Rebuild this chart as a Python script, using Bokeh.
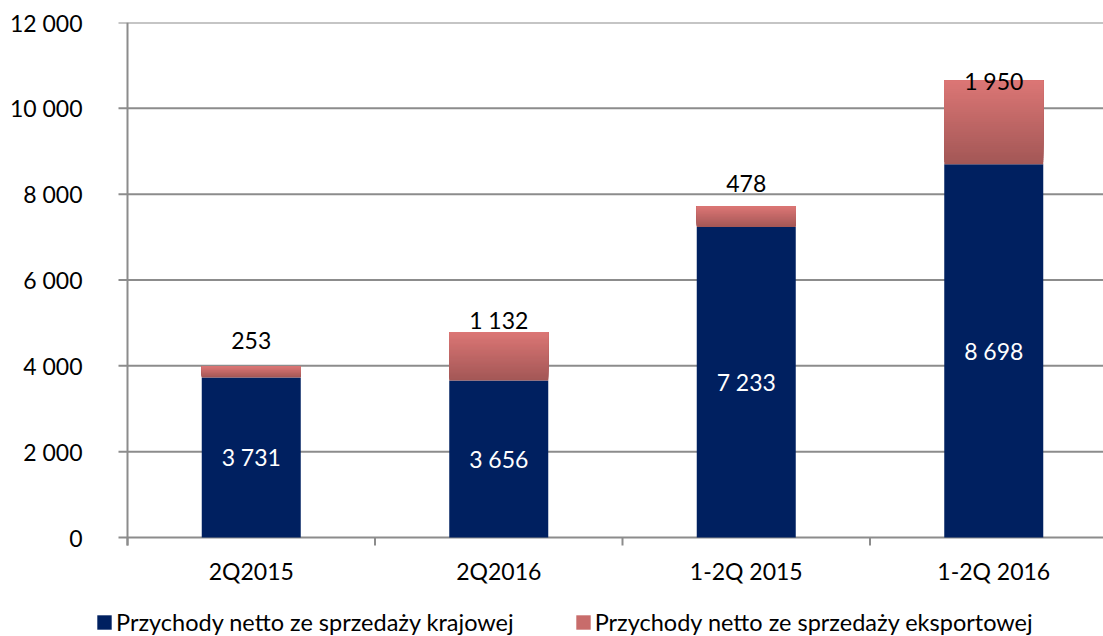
from bokeh.plotting import figure
from bokeh.models import (ColumnDataSource, Range1d, FixedTicker, CustomJSTickFormatter,
                          Legend, LegendItem)
from bokeh.core.properties import value
from bokeh.embed import file_html
from bokeh.resources import INLINE

# ---- data ----
categories = ["2Q2015", "2Q2016", "1-2Q 2015", "1-2Q 2016"]
domestic = [3731, 3656, 7233, 8698]
export = [253, 1132, 478, 1950]
y_ticks = [0, 2000, 4000, 6000, 8000, 10000, 12000]
series_names = ["Przychody netto ze sprzedaży krajowej", "Przychody netto ze sprzedaży eksportowej"]

# ---- style / layout ----
FONT = "Lato"
FS = "23px"
NAVY = "#002060"
EXP_TOP = (219, 118, 117)
EXP_BOT = (163, 87, 86)
GRID = "#8c8c8c"
LW = 2
BAR_W = 0.4
N_SLICES = 40
W, H = 1103, 636
FRAME_L, FRAME_T = 95, 22          # frame box (px)
AXIS_X, AXIS_Y = 127, 537          # pixel of plot origin
CAT_PX = 247.5                     # px per category
Y_MAX = 12000
PX_PER_Y = (AXIS_Y - FRAME_T) / Y_MAX
TICK_PX = 8
export_label_offsets = [-26, -12, -23, 0]   # px, label placement relative to bar top

def fmt(v):
    return f"{v:,}".replace(",", " ")

def dx(px):
    return px / CAT_PX

def dy(px):
    return px / PX_PER_Y

n = len(categories)
xs = [i + 0.5 for i in range(n)]
x0 = -dx(AXIS_X - FRAME_L)
x1 = dx(W - AXIS_X)
y0 = -dy(H - AXIS_Y)

p = figure(width=W, height=H, output_backend="svg", toolbar_location=None,
           x_range=Range1d(x0, x1), y_range=Range1d(y0, Y_MAX), x_axis_location=None,
           min_border_left=FRAME_L, min_border_right=0, min_border_top=FRAME_T, min_border_bottom=0)
p.outline_line_color = None
p.background_fill_color = "white"
p.border_fill_color = "white"
p.grid.visible = False

# y axis: labels only, lines drawn as segments at the plot origin
yax = p.yaxis[0]
yax.ticker = FixedTicker(ticks=y_ticks)
yax.formatter = CustomJSTickFormatter(code="return tick.toString().replace(/\\B(?=(\\d{3})+(?!\\d))/g, ' ');")
yax.axis_line_color = None
yax.major_tick_line_color = None
yax.minor_tick_line_color = None
yax.major_tick_out = 0
yax.major_tick_in = 0
yax.major_label_text_font = FONT
yax.major_label_text_font_size = FS
yax.major_label_text_color = "black"
yax.major_label_standoff = 13

# gridlines with outer tick
p.segment(x0=[-dx(TICK_PX + 1)] * len(y_ticks), y0=y_ticks, x1=[x1] * len(y_ticks), y1=y_ticks,
          line_color=GRID, line_width=LW)
# vertical axis line
p.segment(x0=[0], y0=[-dy(TICK_PX)], x1=[0], y1=[Y_MAX], line_color=GRID, line_width=LW)
# category boundary ticks
bounds = list(range(n + 1))
p.segment(x0=bounds, y0=[0] * len(bounds), x1=bounds, y1=[-dy(TICK_PX)] * len(bounds),
          line_color=GRID, line_width=LW)
# category labels
p.text(x=xs, y=[0] * n, text=categories, y_offset=33, text_color="black",
       text_font=value(FONT), text_font_size=FS, text_align="center", text_baseline="middle")

# domestic bars
src_d = ColumnDataSource(dict(x=xs, top=domestic, mid=[d / 2 for d in domestic],
                              lab=[fmt(d) for d in domestic]))
r_dom = p.vbar(x="x", width=BAR_W, bottom=0, top="top", source=src_d,
               fill_color=NAVY, line_color=None)

# export bars: vertical gradient from overlapping layers (each layer runs to the segment top)
def mix(a, b, t):
    return "#%02x%02x%02x" % tuple(int(round(a[i] + (b[i] - a[i]) * t)) for i in range(3))

tops_e = [d + e for d, e in zip(domestic, export)]
r_exp = None
for k in range(N_SLICES):
    t = k / (N_SLICES - 1)
    col = mix(EXP_BOT, EXP_TOP, t)
    bottoms = [d + e * k / N_SLICES for d, e in zip(domestic, export)]
    r = p.vbar(x=xs, width=BAR_W, bottom=bottoms, top=tops_e, fill_color=col, line_color=None)
    if k == N_SLICES * 2 // 3:
        r_exp = r

# value labels
p.text(x="x", y="mid", text="lab", source=src_d, text_color="white",
       text_font=value(FONT), text_font_size=FS, text_align="center", text_baseline="middle")
src_e = ColumnDataSource(dict(x=xs, y=tops_e, lab=[fmt(e) for e in export], off=export_label_offsets))
p.text(x="x", y="y", text="lab", y_offset="off", source=src_e, text_color="black",
       text_font=value(FONT), text_font_size=FS, text_align="center", text_baseline="middle")

legend = Legend(items=[LegendItem(label=series_names[0], renderers=[r_dom]),
                       LegendItem(label=series_names[1], renderers=[r_exp])],
                orientation="horizontal", location=(0, 0),
                label_text_font=FONT, label_text_font_size="23.5px", label_text_color="black",
                glyph_width=18, glyph_height=18, label_standoff=3, spacing=60,
                padding=0, margin=0, border_line_color=None, background_fill_alpha=0)
p.add_layout(legend, "center")

open("out.html", "w").write(file_html(p, INLINE))
